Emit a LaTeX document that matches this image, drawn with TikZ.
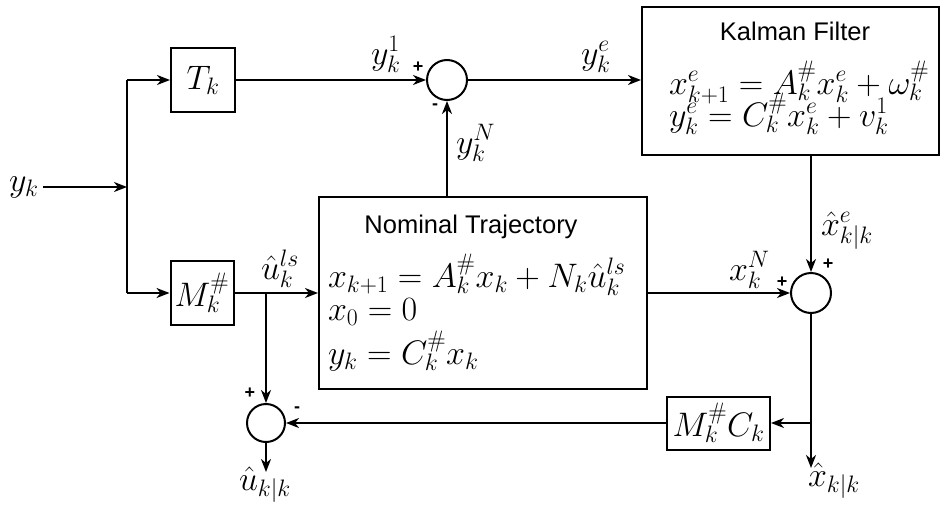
\RequirePackage{fix-cm}
\documentclass[tikz,border=0pt]{standalone}
\usepackage{fontspec}
\setsansfont{Liberation Sans}
\usetikzlibrary{arrows.meta, positioning}

\begin{document}
\begin{tikzpicture}[x=1pt, y=-1pt, line width=2pt, font=\fontsize{34}{40}\selectfont, >={Stealth[length=13pt, width=10pt, inset=4pt]}, block/.style={draw, inner sep=0pt}, sumnode/.style={draw, circle, minimum size=40pt, inner sep=0pt}, sign/.style={font=\sffamily\bfseries\fontsize{18}{18}\selectfont, inner sep=0pt}, heading/.style={font=\sffamily\fontsize{25.5}{30}\selectfont, anchor=base, inner sep=0pt}, eqn/.style={anchor=base west, inner sep=0pt}]
\useasboundingbox (0,0) rectangle (941,506);
\node[block, minimum width=64pt, minimum height=64pt] (Tk) at (203,80) {$T_k$};
\node[block, minimum width=63pt, minimum height=64pt] (Mk) at (202,293) {$M_k^{\#}$};
\node[sumnode] (sum1) at (447,80) {};
\node[block, minimum width=297pt, minimum height=148pt] (kf) at (790.5,81) {};
\node[block, minimum width=328pt, minimum height=192pt] (nom) at (483,293) {};
\node[sumnode] (sum2) at (811,293) {};
\node[block, minimum width=103pt, minimum height=53pt] (MC) at (718.5,423) {$M_k^{\#}C_k$};
\node[sumnode, minimum size=38pt] (sum3) at (266,423) {};
\node[anchor=east] (yin) at (43,187) {$y_k$};
\coordinate (split) at (127,187);
\coordinate (uout) at (266,472);
\coordinate (xout) at (811,468);
% texts in the boxes
\node[heading] (kftitle) at (795,40) {Kalman Filter};
\node[eqn] (kfeq1) at (668,94) {$x_{k+1}^e = A_k^{\#} x_k^e + \omega_k^{\#}$};
\node[eqn] (kfeq2) at (668,126) {$y_k^e = C_k^{\#} x_k^e + v_k^1$};
\node[heading] (nomtitle) at (471,233) {Nominal Trajectory};
\node[eqn] (nomeq1) at (327,287) {$x_{k+1} = A_k^{\#} x_k + N_k \hat{u}_k^{ls}$};
\node[eqn] (nomeq2) at (327,320) {$x_0 = 0$};
\node[eqn] (nomeq3) at (327,364) {$y_k = C_k^{\#} x_k$};
% signal labels
\node[eqn] (ly1) at (370,64) {$y_k^1$};
\node[eqn] (lye) at (580,64) {$y_k^e$};
\node[eqn] (lyN) at (455,153) {$y_k^N$};
\node[eqn] (lu) at (260,279) {$\hat{u}_k^{ls}$};
\node[eqn] (lxN) at (728,280) {$x_k^N$};
\node[eqn] (lxe) at (820,235) {$\hat{x}_{k|k}^e$};
\node[eqn] (luk) at (238,490) {$\hat{u}_{k|k}$};
\node[eqn] (lxk) at (807,486) {$\hat{x}_{k|k}$};
\node[sign] (s1p) at (418,67) {+};
\node[sign] (s1m) at (435,107) {-};
\node[sign] (s2p) at (782,282) {+};
\node[sign] (s2q) at (828,264) {+};
\node[sign] (s3p) at (250,393) {+};
\node[sign] (s3m) at (297,410) {-};
% connectors
\draw[->] (yin) -- (split);
\draw (split |- Tk) -- (split |- Mk);
\draw[->] (split |- Tk) -- (Tk);
\draw[->] (split |- Mk) -- (Mk);
\draw[->] (Tk) -- (sum1);
\draw[->] (sum1) -- (sum1 -| kf.west);
\draw[->] (sum1 |- nom.north) -- (sum1);
\draw[->] (Mk) -- (nom);
\draw[->] (sum3 |- Mk) -- (sum3);
\draw[->] (nom) -- (sum2);
\draw[->] (sum2 |- kf.south) -- (sum2);
\draw[->] (sum2) -- (xout);
\draw[->] (sum2 |- MC) -- (MC);
\draw[->] (MC) -- (sum3);
\draw[->] (sum3) -- (uout);
\end{tikzpicture}
\end{document}
